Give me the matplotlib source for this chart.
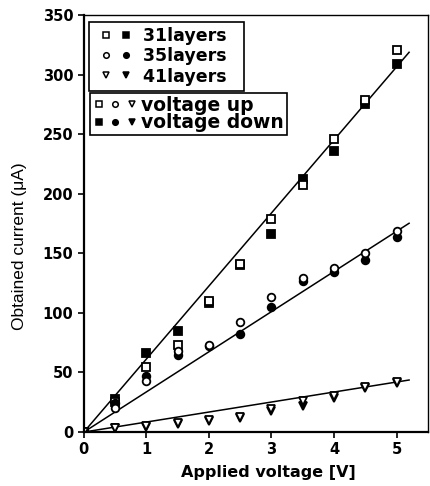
import matplotlib
matplotlib.use("Agg")
import matplotlib.pyplot as plt
import numpy as np
from matplotlib.legend_handler import HandlerTuple
from matplotlib.lines import Line2D

plt.rcParams['font.family'] = ['DejaVu Sans']

voltage = [0, 0.5, 1, 1.5, 2, 2.5, 3, 3.5, 4, 4.5, 5]

l31_up = [0, 25, 55, 73, 110, 141, 179, 207, 246, 279, 321]
l31_down = [0, 28, 66, 85, 108, 140, 166, 212, 236, 275, 309]
l35_up = [0, 20, 43, 68, 73, 92, 113, 129, 138, 150, 169]
l35_down = [0, 24, 47, 65, 72, 82, 105, 127, 134, 144, 164]
l41_up = [0, 3, 5, 8, 10, 13, 19, 26, 30, 38, 42]
l41_down = [0, 3, 4, 7, 9, 12, 18, 22, 29, 37, 41]

layer_labels = ['31layers', '35layers', '41layers']
sweep_labels = ['voltage up', 'voltage down']

# fitted slopes (uA per V) for the three linear trends
fit_slopes = [61.3, 33.7, 8.4]
fit_vmax = 5.2

fig = plt.figure(figsize=(4.3, 4.86), dpi=100)
ax = fig.add_axes([0.195, 0.111, 0.80, 0.858])

mk = dict(linestyle='none', markersize=5.5, markeredgewidth=1.3, color='black')

vfit = np.array([0, fit_vmax])
for s in fit_slopes:
    ax.plot(vfit, s * vfit, color='black', lw=1.1, zorder=1)

ax.plot(voltage, l31_down, marker='s', markerfacecolor='black', **mk)
ax.plot(voltage, l31_up, marker='s', markerfacecolor='white', **mk)
ax.plot(voltage, l35_down, marker='o', markerfacecolor='black', **mk)
ax.plot(voltage, l35_up, marker='o', markerfacecolor='white', **mk)
ax.plot(voltage, l41_down, marker='v', markerfacecolor='black', **mk)
ax.plot(voltage, l41_up, marker='v', markerfacecolor='white', **mk)

ax.set_xlim(0, 5.5)
ax.set_ylim(0, 350)
ax.set_xticks([0, 1, 2, 3, 4, 5])
ax.set_yticks(np.arange(0, 351, 50))
ax.tick_params(direction='out', length=4, width=1.2, labelsize=10.5)
for lab in ax.get_xticklabels() + ax.get_yticklabels():
    lab.set_fontweight('bold')
for side in ['left', 'bottom']:
    ax.spines[side].set_linewidth(1.6)
for side in ['top', 'right']:
    ax.spines[side].set_linewidth(1.0)

ax.set_xlabel('Applied voltage [V]', fontsize=11.5, fontweight='bold')
ax.xaxis.set_label_coords(0.535, -0.078)
ax.set_ylabel('Obtained current (\u03bcA)', fontsize=12.5,
              family=['Liberation Sans', 'DejaVu Sans'])
ax.yaxis.set_label_coords(-0.165, 0.445)

# small legend keys
lk = dict(linestyle='none', markersize=4, markeredgewidth=1.1, color='black')
def key(m, filled):
    return Line2D([], [], marker=m, markerfacecolor='black' if filled else 'white', **lk)

leg_kw = dict(frameon=True, fancybox=False, edgecolor='black', framealpha=1,
              borderaxespad=0.0, loc='upper left')

leg1 = ax.legend([(key('s', False), key('s', True)),
                  (key('o', False), key('o', True)),
                  (key('v', False), key('v', True))],
                 [t + '  ' for t in layer_labels],
                 handler_map={tuple: HandlerTuple(ndivide=None, pad=-0.23)},
                 handlelength=2.53, handletextpad=0.3, labelspacing=0.12,
                 borderpad=0.3, prop={'weight': 'bold', 'size': 12.5},
                 bbox_to_anchor=(0.0145, 0.983), **leg_kw)
leg1.get_frame().set_linewidth(1.2)
ax.add_artist(leg1)

leg2 = ax.legend([(key('s', False), key('o', False), key('v', False)),
                  (key('s', True), key('o', True), key('v', True))],
                 sweep_labels,
                 handler_map={tuple: HandlerTuple(ndivide=None, pad=0.24)},
                 handlelength=2.4, handletextpad=0.2, labelspacing=-0.08,
                 borderpad=0.15, prop={'weight': 'bold', 'size': 13.5},
                 bbox_to_anchor=(0.017, 0.813), **leg_kw)
leg2.get_frame().set_linewidth(1.2)

fig.savefig('out.png', dpi=100)
